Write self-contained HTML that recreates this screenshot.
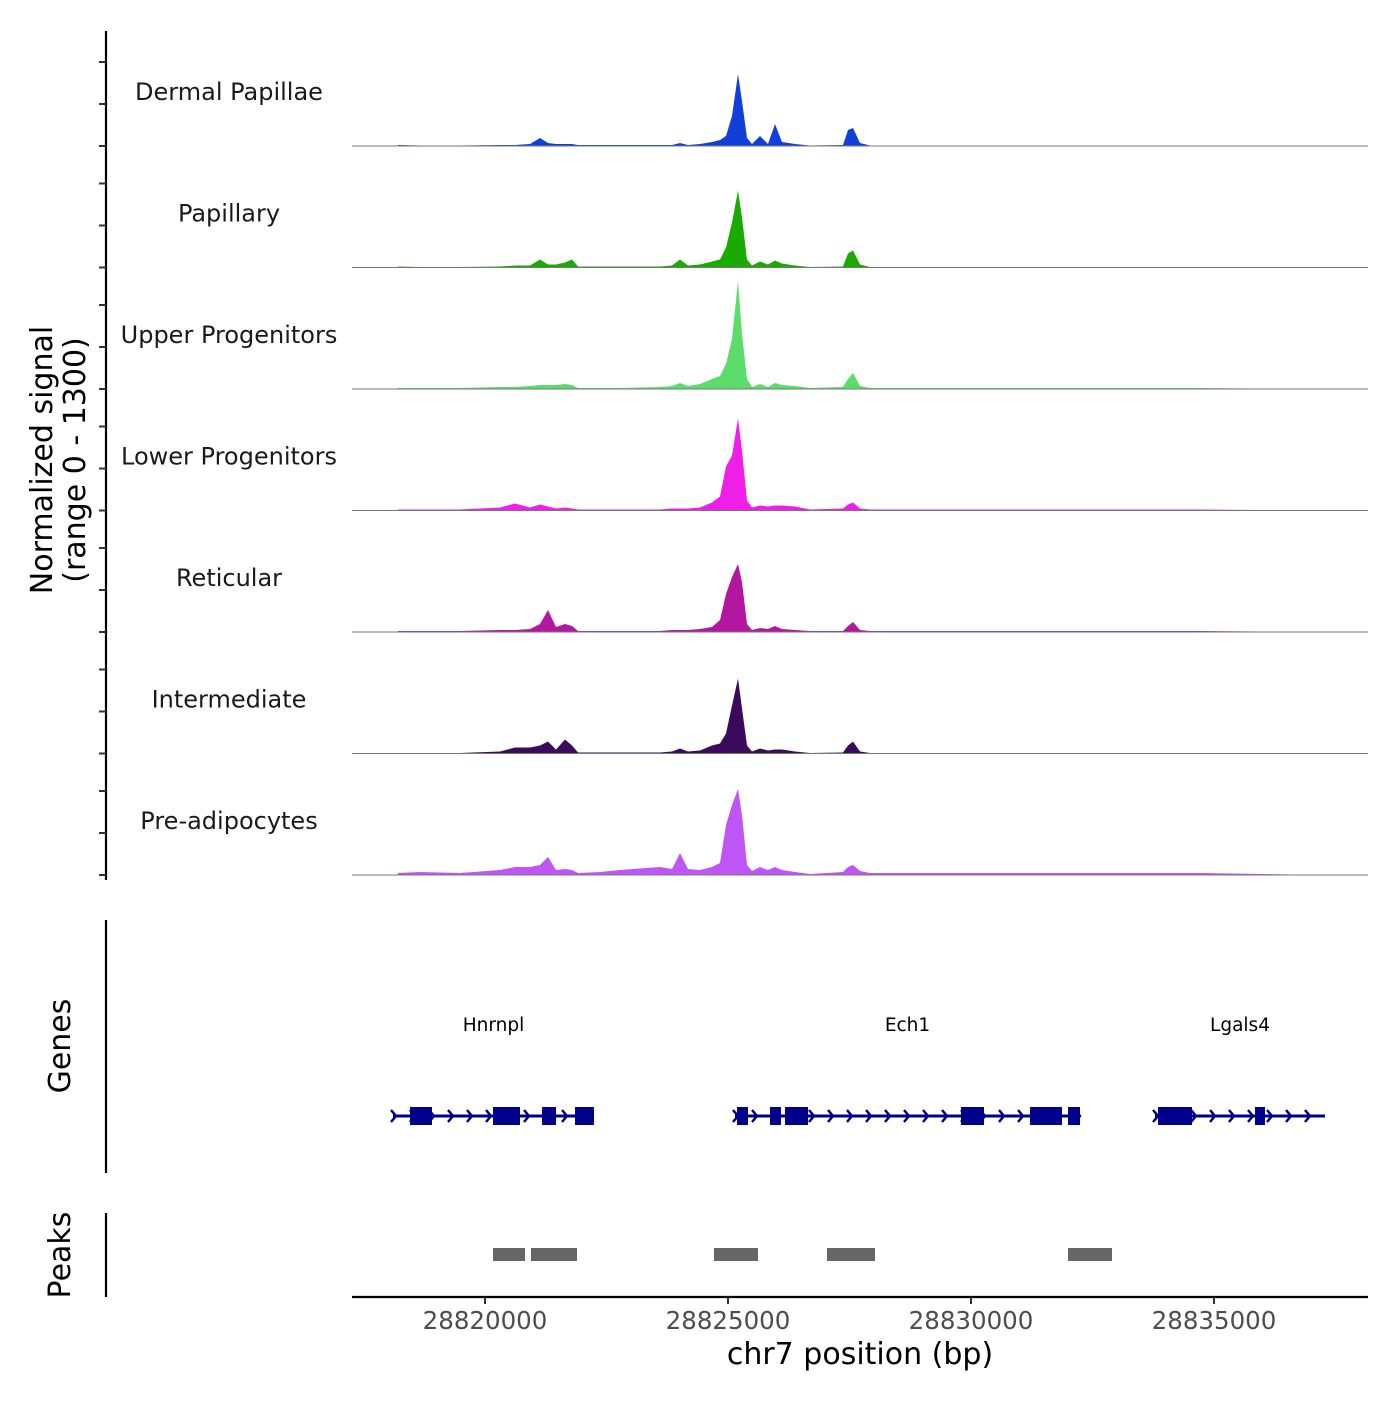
<!DOCTYPE html>
<html><head><meta charset="utf-8"><style>
html,body{margin:0;padding:0;background:#fff;}
svg text{font-family:"DejaVu Sans","Liberation Sans",sans-serif;}
</style></head><body>
<svg id="chart" width="1400" height="1400" xmlns="http://www.w3.org/2000/svg"></svg>
<script>
// ---- data ----
const trackNames = ["Dermal Papillae","Papillary","Upper Progenitors","Lower Progenitors","Reticular","Intermediate","Pre-adipocytes"];
const trackColors = ["#123fd8","#1aab00","#5bdc6b","#f01fe8","#b3179f","#3a0a5c","#bf55f5"];
const positions = [28818210,28818663,28819486,28820309,28820617,28820926,28821132,28821296,28821461,28821646,28821790,28821914,28822366,28822778,28823601,28823848,28824012,28824177,28824424,28824671,28824835,28824959,28825082,28825206,28825288,28825391,28825494,28825659,28825823,28825967,28826111,28826379,28826687,28827366,28827469,28827572,28827716,28827922,28828951,28830597,28832654,28834712,28837181];
const sigDermal = [11,5,5,11,11,21,86,32,21,21,21,11,11,11,11,11,32,11,21,43,64,107,321,770,482,86,21,107,21,235,43,21,5,11,171,193,32,5,5,5,5,5,0];
const sigPapillary = [11,5,5,11,21,21,86,32,32,54,86,11,11,11,11,21,86,21,32,64,86,214,482,824,535,86,21,64,32,75,43,21,5,11,150,182,32,5,5,5,5,5,0];
const sigUpper = [11,11,11,21,21,32,43,43,43,54,43,11,11,11,21,32,64,32,54,107,139,268,535,1156,589,107,21,54,21,64,43,32,11,21,107,171,32,11,11,11,11,11,0];
const sigLower = [11,11,11,32,75,32,64,43,21,32,21,11,11,11,11,21,21,21,32,86,150,471,589,984,642,107,32,54,43,54,54,43,11,21,64,86,21,11,11,11,11,11,0];
const sigReticular = [11,11,11,21,21,32,86,235,54,86,64,11,11,11,11,21,21,21,32,54,128,407,589,728,535,86,21,43,32,64,32,21,11,11,64,107,21,11,11,11,11,11,0];
const sigIntermediate = [5,5,5,21,64,64,86,128,43,150,86,11,11,11,11,21,54,21,32,86,107,214,514,803,482,86,21,54,32,43,43,21,5,11,86,128,21,5,5,5,5,5,0];
const sigPreadip = [21,32,21,54,86,86,107,193,54,64,54,21,32,54,86,64,235,64,54,86,128,535,749,920,642,107,43,86,54,86,54,32,11,32,86,107,43,21,21,21,21,21,0];
const signals = [sigDermal,sigPapillary,sigUpper,sigLower,sigReticular,sigIntermediate,sigPreadip];
const geneNames = ["Hnrnpl","Ech1","Lgals4"];
const geneStarts = [28818107,28825144,28833786];
const geneEnds = [28822243,28832243,28837284];
const geneExons = [
  [[28818457,28818909],[28820165,28820720],[28821173,28821461],[28821852,28822243]],
  [[28825185,28825411],[28825864,28826090],[28826173,28826646],[28829794,28830267],[28831214,28831872],[28831996,28832243]],
  [[28833848,28834547],[28835844,28836049]]
];
const peakStarts = [28820165,28820946,28824712,28827037,28831996];
const peakEnds = [28820823,28821893,28825617,28828025,28832901];
const xTicks = [28820000,28825000,28830000,28835000];

// ---- scales ----
const NS="http://www.w3.org/2000/svg";
const svg=document.getElementById('chart');
const X0=352,X1=1368;
const xScale=bp=>485+(bp-28820000)*243/5000;
const trackH=121.5, firstBase=146, yMax=1300;
const yScale=(i,v)=>firstBase+i*trackH - v/yMax*trackH;
function el(tag,attrs,parent){const e=document.createElementNS(NS,tag);for(const k in attrs)e.setAttribute(k,attrs[k]);(parent||svg).appendChild(e);return e;}

// left axis
const ax=el('line',{x1:106,y1:31,x2:106,y2:880,stroke:'#000','stroke-width':2.2});


for(let i=0;i<7;i++){
  const b=firstBase+i*trackH;
  [0,42,84].forEach(d=>{const t=el('line',{x1:99,y1:b-d,x2:106,y2:b-d,stroke:'#333','stroke-width':2});
    
    });
}
const yt=el('text',{transform:'translate(52,460) rotate(-90)','text-anchor':'middle','font-size':30,fill:'#000'});


el('tspan',{x:0,dy:0},yt).textContent='Normalized signal';
el('tspan',{x:0,dy:33},yt).textContent='(range 0 - 1300)';

// tracks
for(let i=0;i<7;i++){
  const g=el('g',{});
  
  
  const base=firstBase+i*trackH;
  let d='M'+xScale(positions[0])+','+base;
  positions.forEach((p,j)=>{d+=' L'+xScale(p).toFixed(1)+','+yScale(i,signals[i][j]).toFixed(1);});
  d+=' L'+xScale(positions[positions.length-1])+','+base+' Z';
  const a=el('path',{d:d,fill:trackColors[i]},g);
  
  
  const bl=el('line',{x1:X0,y1:base,x2:X1,y2:base,stroke:'#777','stroke-width':1},g);
  
  
  const lb=el('text',{x:229,y:base-46,'text-anchor':'middle','font-size':24,fill:'#1a1a1a'},g);
  
  
  lb.textContent=trackNames[i];
}

// genes
const ga=el('line',{x1:106,y1:920,x2:106,y2:1173,stroke:'#000','stroke-width':2.2});


const gt=el('text',{transform:'translate(70,1046) rotate(-90)','text-anchor':'middle','font-size':30,fill:'#000'});


gt.textContent='Genes';
const GY=1116;
geneNames.forEach((n,i)=>{
  const g=el('g',{});
  
  
  const xs=xScale(geneStarts[i]),xe=xScale(geneEnds[i]);
  el('line',{x1:xs,y1:GY,x2:xe,y2:GY,stroke:'#00008b','stroke-width':3},g);
  for(let x=xs+3;x<=xe;x+=19){el('polyline',{points:(x-5)+','+(GY-6)+' '+x+','+GY+' '+(x-5)+','+(GY+6),fill:'none',stroke:'#00008b','stroke-width':2.5},g);}
  geneExons[i].forEach(e=>{const r=el('rect',{x:xScale(e[0]),y:GY-9,width:xScale(e[1])-xScale(e[0]),height:18,fill:'#00008b'},g);
    
    });
  const t=el('text',{x:(xs+xe)/2,y:1031,'text-anchor':'middle','font-size':18.5,fill:'#000'},g);
  
  
  t.textContent=n;
});

// peaks
const pa=el('line',{x1:106,y1:1213,x2:106,y2:1297,stroke:'#000','stroke-width':2.2});


const pt=el('text',{transform:'translate(70,1255) rotate(-90)','text-anchor':'middle','font-size':30,fill:'#000'});


pt.textContent='Peaks';
peakStarts.forEach((s,i)=>{
  const r=el('rect',{x:xScale(s),y:1248,width:xScale(peakEnds[i])-xScale(s),height:13,fill:'#666'});
  
  
});

// x axis
const xa=el('line',{x1:X0,y1:1297,x2:X1,y2:1297,stroke:'#000','stroke-width':2.2});


xTicks.forEach(t=>{
  const x=xScale(t);
  const tk=el('line',{x1:x,y1:1297,x2:x,y2:1304,stroke:'#333','stroke-width':2});
  
  
  const lb=el('text',{x:x,y:1329,'text-anchor':'middle','font-size':24.5,fill:'#4d4d4d'});
  
  
  lb.textContent=t;
});
const xt=el('text',{x:860,y:1364,'text-anchor':'middle','font-size':30,fill:'#000'});


xt.textContent='chr7 position (bp)';
</script>
</body></html>
